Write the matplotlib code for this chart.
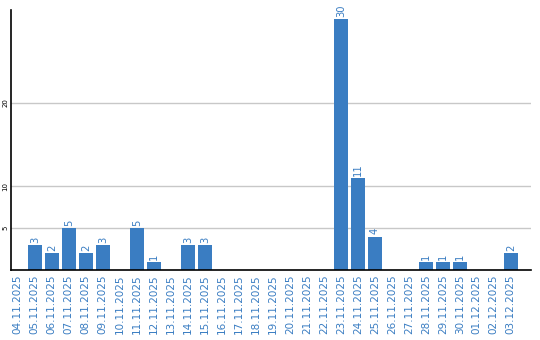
import matplotlib
matplotlib.use("Agg")
import matplotlib.pyplot as plt
import numpy as np

dates = ["04.11.2025", "05.11.2025", "06.11.2025", "07.11.2025", "08.11.2025",
         "09.11.2025", "10.11.2025", "11.11.2025", "12.11.2025", "13.11.2025",
         "14.11.2025", "15.11.2025", "16.11.2025", "17.11.2025", "18.11.2025",
         "19.11.2025", "20.11.2025", "21.11.2025", "22.11.2025", "23.11.2025",
         "24.11.2025", "25.11.2025", "26.11.2025", "27.11.2025", "28.11.2025",
         "29.11.2025", "30.11.2025", "01.12.2025", "02.12.2025", "03.12.2025"]
counts = [0, 3, 2, 5, 2, 3, 0, 5, 1, 0,
          3, 3, 0, 0, 0, 0, 0, 0, 0, 30,
          11, 4, 0, 0, 1, 1, 1, 0, 0, 2]
y_ticks = [5, 10, 20]

blue = "#3a7dc2"

fig = plt.figure(figsize=(5.4, 3.4), dpi=100)
ax = fig.add_axes([0.0198, 0.206, 0.963, 0.765])

x = np.arange(len(dates))
ax.bar(x, counts, width=0.83, color=blue, zorder=3)
for xi, v in zip(x, counts):
    if v > 0:
        ax.annotate(str(v), (xi, v), xytext=(0, 1.5), textcoords="offset points",
                    rotation=90, ha="center", va="bottom", color=blue, fontsize=7.2)

ax.set_xlim(-0.42, 30.17)
ax.set_ylim(0, 31.1)
ax.set_xticks(x)
ax.set_xticklabels(dates, rotation=90, color=blue, fontsize=7.5)
ax.set_yticks(y_ticks)
ax.set_yticklabels([str(t) for t in y_ticks], rotation=90, fontsize=5,
                   va="center", color="black")
ax.tick_params(axis="x", length=0, pad=3)
ax.tick_params(axis="y", length=0, pad=1.5)
ax.grid(axis="y", color="#c8c8c8", linewidth=1, zorder=0)
for s in ["top", "right"]:
    ax.spines[s].set_visible(False)
for s in ["left", "bottom"]:
    ax.spines[s].set_color("black")
    ax.spines[s].set_linewidth(1.2)
    ax.spines[s].set_zorder(4)

fig.savefig("out.png", dpi=100)
